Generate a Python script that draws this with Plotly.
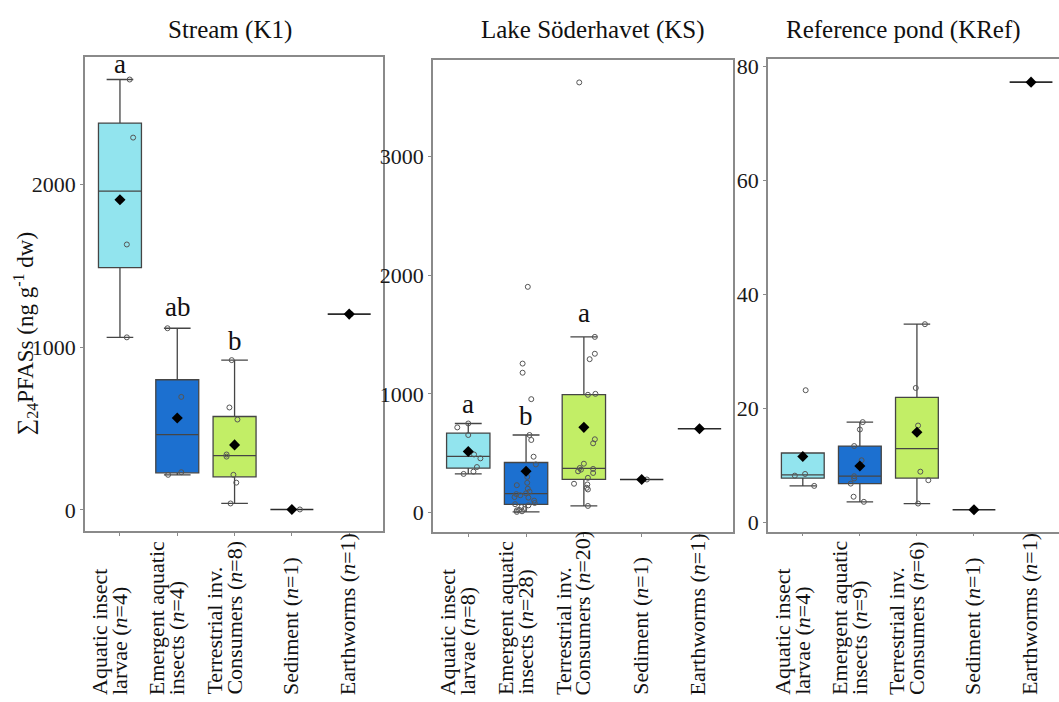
import numpy as np
import plotly.graph_objects as go

# ---------------- data ----------------
groups = ["Aquatic insect larvae", "Emergent aquatic insects", "Terrestrial inv. Consumers", "Sediment", "Earthworms"]
label_lines = [["Aquatic insect", "larvae (<i>n</i>={n})"],
               ["Emergent aquatic", "insects (<i>n</i>={n})"],
               ["Terrestrial inv.", "Consumers (<i>n</i>={n})"],
               ["Sediment (<i>n</i>={n})"],
               ["Earthworms (<i>n</i>={n})"]]
panel_titles = ["Stream (K1)", "Lake Söderhavet (KS)", "Reference pond (KRef)"]

k1_aquatic = [1061, 1632, 2289, 2646]
k1_emergent = [216, 232, 695, 1117]
k1_terrestrial = [40, 168, 216, 328, 341, 556, 630, 921]
k1_sediment = [3]
k1_earthworms = [1204]

ks_aquatic = [325, 344, 383, 456, 489, 653, 717, 750]
ks_emergent = [5, 10, 18, 22, 30, 45, 60, 70, 80, 100, 125, 130, 145, 155, 161,
               175, 200, 230, 250, 300, 405, 470, 611, 653, 955, 1178, 1255, 1902]
ks_terrestrial = [55, 194, 208, 236, 242, 292, 333, 347, 361, 367, 375, 411, 583,
                  617, 992, 1000, 1292, 1338, 1480, 3625]
ks_sediment = [278]
ks_earthworms = [706]

kref_aquatic = [6.4, 8.2, 8.5, 23.2]
kref_emergent = [3.6, 4.5, 6.8, 7.7, 8.1, 10.9, 13.4, 16.3, 17.6]
kref_terrestrial = [3.3, 7.4, 8.9, 17.0, 23.6, 34.8]
kref_sediment = [2.2]
kref_earthworms = [77.3]

# horizontal jitter of the individual points (category units), as seen in the picture
k1_jitter = [[0.12, 0.12, 0.23, 0.17], [-0.16, 0.07, 0.07, -0.17],
             [-0.07, 0.03, -0.02, -0.14, -0.14, 0.05, -0.09, -0.05], [0.14], [0.03]]
ks_jitter = [[-0.08, 0.09, 0.15, 0.21, 0.10, 0.0, -0.19, 0.0],
             [-0.16, -0.07, -0.16, -0.12, -0.03, -0.08, 0.04, -0.19, 0.15, 0.14, 0.04, -0.2, -0.1, -0.17,
              0.0, 0.06, 0.03, -0.16, 0.02, 0.02, 0.17, 0.13, 0.09, 0.06, 0.09, -0.06, -0.06, 0.03],
             [0.07, 0.07, 0.05, 0.06, -0.17, 0.07, 0.16, -0.1, -0.05, 0.16, -0.07, 0.0, 0.16, 0.19,
              0.07, 0.2, 0.1, 0.19, 0.19, -0.08],
             [0.09], [0.0]]
kref_jitter = [[0.2, -0.14, 0.04, 0.05], [0.07, -0.11, -0.16, -0.1, -0.1, 0.03, -0.1, 0.0, 0.05],
               [0.02, 0.2, 0.06, 0.02, -0.02, 0.14], [0.0], [0.0]]

k1_letters = ["a", "ab", "b", "", ""]
ks_letters = ["a", "b", "a", "", ""]
kref_letters = ["", "", "", "", ""]

# ---------------- styling / layout ----------------
fills = ["#92E4EE", "#1C70D0", "#C2EE66", "rgba(0,0,0,0)", "rgba(0,0,0,0)"]
serif = "Liberation Serif"
W, H = 1059, 702

panels = [
    dict(data=[k1_aquatic, k1_emergent, k1_terrestrial, k1_sediment, k1_earthworms], jit=k1_jitter,
         letters=k1_letters, letter_shift=[16, 21, 19, 0, 0],
         px=(85, 383), py=(53, 532.5), xr=[-0.61, 4.59], yr=[-132, 2782], yt=[0, 1000, 2000],
         title_x=230, right_line=True),
    dict(data=[ks_aquatic, ks_emergent, ks_terrestrial, ks_sediment, ks_earthworms], jit=ks_jitter,
         letters=ks_letters, letter_shift=[19, 19, 24, 0, 0],
         px=(433, 733), py=(56, 533), xr=[-0.61, 4.58], yr=[-164, 3811], yt=[0, 1000, 2000, 3000],
         title_x=593, right_line=True),
    dict(data=[kref_aquatic, kref_emergent, kref_terrestrial, kref_sediment, kref_earthworms], jit=kref_jitter,
         letters=kref_letters, letter_shift=[0, 0, 0, 0, 0],
         px=(768, 1059), py=(55, 532.7), xr=[-0.61, 4.49], yr=[-1.63, 81.3], yt=[0, 20, 40, 60, 80],
         title_x=903, right_line=False),
]

fig = go.Figure()
annotations = []
for k, p in enumerate(panels):
    s = "" if k == 0 else str(k + 1)
    xa, ya = "x" + s, "y" + s
    for i, vals in enumerate(p["data"]):
        v = np.array(vals, dtype=float)
        q1, med, q3 = np.percentile(v, [25, 50, 75])
        iqr = q3 - q1
        up = max(v[v <= q3 + 1.5 * iqr].max(), q3)
        lo = min(v[v >= q1 - 1.5 * iqr].min(), q1)
        single = len(v) == 1
        fig.add_trace(go.Box(
            x=[i], q1=[q1], median=[med], q3=[q3], lowerfence=[lo], upperfence=[up],
            width=0.75, whiskerwidth=0.62, fillcolor=fills[i],
            line=dict(color="#2b2b2b" if single else "#454545", width=1.6 if single else 1.3),
            boxpoints=False, xaxis=xa, yaxis=ya, showlegend=False, hoverinfo="skip"))
        fig.add_trace(go.Scatter(
            x=[i + j for j in p["jit"][i]], y=v, mode="markers",
            marker=dict(symbol="circle-open", size=5, color="#555555", line=dict(width=1)),
            xaxis=xa, yaxis=ya, showlegend=False, hoverinfo="skip"))
        fig.add_trace(go.Scatter(
            x=[i], y=[v.mean()], mode="markers",
            marker=dict(symbol="diamond", size=8.5, color="black"),
            xaxis=xa, yaxis=ya, showlegend=False, hoverinfo="skip"))
        if p["letters"][i]:
            annotations.append(dict(
                x=i, y=up, xref=xa, yref=ya, text=p["letters"][i], showarrow=False,
                yshift=p["letter_shift"][i], yanchor="middle",
                font=dict(family=serif, size=27, color="#111")))
        # category labels, bottom aligned, reading upward
        lines = label_lines[i]
        offs = [-21, -1] if len(lines) == 2 else [-2]
        for line, off in zip(lines, offs):
            annotations.append(dict(
                x=i, y=1 - 699 / H, xref=xa, yref="paper", xshift=off,
                text=line.format(n=len(v)), showarrow=False, textangle=-90,
                xanchor="center", yanchor="bottom", borderpad=0,
                font=dict(family=serif, size=22, color="#111")))
    # panel title
    annotations.append(dict(
        x=p["title_x"] / W, y=1 - 25 / H, xref="paper", yref="paper", text=panel_titles[k],
        showarrow=False, xanchor="center", yanchor="middle",
        font=dict(family=serif, size=25, color="#111")))

    axis_common = dict(showline=True, linecolor="#8a8a8a", linewidth=1.5,
                       showgrid=False, zeroline=False, ticks="outside", ticklen=3,
                       tickcolor="#8a8a8a", tickwidth=1)
    fig.update_layout(**{
        "xaxis" + s: dict(domain=[p["px"][0] / W, p["px"][1] / W], range=p["xr"], mirror=True,
                          tickvals=list(range(5)), showticklabels=False, anchor=ya, **axis_common),
        "yaxis" + s: dict(domain=[1 - p["py"][1] / H, 1 - p["py"][0] / H], range=p["yr"],
                          mirror=p["right_line"], tickvals=p["yt"], anchor=xa,
                          tickfont=dict(family=serif, size=22, color="#1a1a1a"), **axis_common),
    })

annotations.append(dict(
    x=25 / W, y=1 - 333 / H, xref="paper", yref="paper",
    text="∑<sub>24</sub>PFASs (ng g<sup>-1</sup> dw)", showarrow=False, textangle=-90,
    xanchor="center", yanchor="middle", font=dict(family=serif, size=23, color="#111")))

fig.update_layout(width=W, height=H, autosize=False, margin=dict(l=0, r=0, t=0, b=0),
                  paper_bgcolor="white", plot_bgcolor="white", boxmode="overlay",
                  annotations=annotations)

fig.write_html("out.html", config={"displayModeBar": False},
               post_script="document.body.style.margin='0px';")
